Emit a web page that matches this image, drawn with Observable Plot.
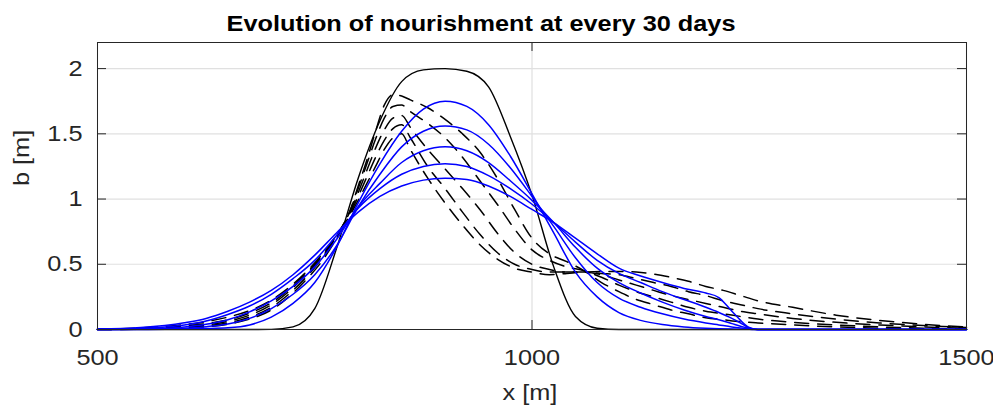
<!DOCTYPE html>
<html>
<head>
<meta charset="utf-8">
<script src="https://cdn.jsdelivr.net/npm/d3@7"></script>
<script src="https://cdn.jsdelivr.net/npm/@observablehq/plot@0.6"></script>
<style>
  html, body { margin: 0; padding: 0; background: #ffffff; }
  #chart svg { display: block; }
</style>
</head>
<body>
<div id="chart"></div>
<script>
// ---- text ----
const titleText = "Evolution of nourishment at every 30 days";
const xLabel = "x [m]";
const yLabel = "b [m]";
const xTicks = [500, 1000, 1500];
const yTicks = [0, 0.5, 1, 1.5, 2];

// ---- grid for solid curves (x in m) ----
const xSolid = [500, 550, 600, 625, 650, 675, 700, 725, 750, 775, 800, 825, 850, 875, 900, 925, 950, 975, 1000, 1025, 1050, 1075, 1100, 1125, 1150, 1175, 1200, 1215, 1230, 1240, 1250, 1260, 1300, 1400, 1500];

// initial nourishment (black solid)
const initialB = [0, 0, 0, 0, 0, 0, 0.001, 0.02, 0.16, 0.62, 1.16, 1.6, 1.9, 1.99, 2.0, 1.98, 1.86, 1.48, 1.03, 0.48, 0.1, 0.01, 0, 0, 0, 0, 0, 0, 0, 0, 0, 0, 0, 0, 0];

// analytical solutions (blue), every 30 days
const blue1 = [0, 0, 0.004, 0.007, 0.013, 0.035, 0.095, 0.2, 0.36, 0.63, 0.97, 1.27, 1.52, 1.69, 1.75, 1.71, 1.57, 1.33, 1.04, 0.74, 0.44, 0.25, 0.13, 0.07, 0.038, 0.02, 0.01, 0.006, 0.003, 0.002, 0.001, 0, 0, 0, 0];
const blue2 = [0, 0.002, 0.01, 0.022, 0.042, 0.085, 0.16, 0.27, 0.42, 0.64, 0.94, 1.19, 1.4, 1.52, 1.56, 1.53, 1.42, 1.24, 1.02, 0.79, 0.55, 0.36, 0.24, 0.17, 0.12, 0.08, 0.05, 0.035, 0.02, 0.012, 0.005, 0, 0, 0, 0];
const blue3 = [0, 0.004, 0.02, 0.04, 0.075, 0.135, 0.22, 0.33, 0.48, 0.69, 0.94, 1.12, 1.28, 1.37, 1.40, 1.37, 1.28, 1.14, 0.99, 0.82, 0.63, 0.47, 0.36, 0.28, 0.21, 0.15, 0.1, 0.075, 0.045, 0.025, 0.008, 0, 0, 0, 0];
const blue4 = [0.001, 0.008, 0.035, 0.065, 0.115, 0.18, 0.27, 0.39, 0.53, 0.72, 0.93, 1.08, 1.19, 1.25, 1.27, 1.25, 1.18, 1.08, 0.96, 0.82, 0.67, 0.53, 0.43, 0.36, 0.29, 0.23, 0.17, 0.13, 0.085, 0.05, 0.012, 0, 0, 0, 0];
const blue5 = [0.003, 0.015, 0.052, 0.085, 0.14, 0.21, 0.3, 0.42, 0.57, 0.74, 0.9, 1.02, 1.1, 1.145, 1.16, 1.15, 1.1, 1.02, 0.92, 0.82, 0.7, 0.58, 0.47, 0.41, 0.36, 0.315, 0.28, 0.245, 0.14, 0.07, 0.015, 0, 0, 0, 0];

// ---- grid for dashed curves ----
const xDashed = [500, 550, 600, 625, 650, 675, 700, 720, 740, 760, 780, 790, 800, 810, 820, 830, 840, 850, 860, 880, 900, 920, 940, 960, 980, 1000, 1020, 1040, 1060, 1080, 1100, 1120, 1140, 1160, 1180, 1200, 1220, 1240, 1260, 1300, 1350, 1400, 1450, 1500];

// numerical solutions (black dashed), every 30 days
const dashed1 = [0, 0.002, 0.01, 0.02, 0.04, 0.08, 0.15, 0.25, 0.38, 0.54, 0.76, 0.9, 1.1, 1.3, 1.52, 1.72, 1.80, 1.79, 1.76, 1.70, 1.61, 1.50, 1.36, 1.16, 0.92, 0.7, 0.58, 0.52, 0.45, 0.36, 0.29, 0.23, 0.19, 0.15, 0.12, 0.09, 0.075, 0.06, 0.05, 0.035, 0.02, 0.01, 0.004, 0.001];
const dashed2 = [0, 0.003, 0.015, 0.027, 0.05, 0.095, 0.17, 0.27, 0.4, 0.56, 0.77, 0.9, 1.08, 1.27, 1.46, 1.62, 1.71, 1.72, 1.67, 1.58, 1.47, 1.32, 1.14, 0.96, 0.77, 0.61, 0.53, 0.48, 0.45, 0.40, 0.34, 0.29, 0.25, 0.21, 0.17, 0.14, 0.12, 0.10, 0.08, 0.055, 0.035, 0.02, 0.01, 0.004];
const dashed3 = [0.001, 0.005, 0.02, 0.035, 0.062, 0.11, 0.19, 0.29, 0.42, 0.57, 0.77, 0.89, 1.05, 1.22, 1.39, 1.53, 1.62, 1.64, 1.55, 1.38, 1.23, 1.08, 0.92, 0.74, 0.59, 0.5, 0.46, 0.44, 0.44, 0.42, 0.38, 0.34, 0.30, 0.26, 0.23, 0.20, 0.17, 0.14, 0.12, 0.085, 0.055, 0.035, 0.02, 0.01];
const dashed4 = [0.002, 0.008, 0.028, 0.045, 0.075, 0.125, 0.205, 0.305, 0.43, 0.58, 0.77, 0.88, 1.02, 1.17, 1.32, 1.45, 1.54, 1.57, 1.47, 1.25, 1.08, 0.9, 0.73, 0.59, 0.5, 0.46, 0.44, 0.44, 0.44, 0.43, 0.42, 0.39, 0.36, 0.33, 0.29, 0.26, 0.22, 0.19, 0.16, 0.12, 0.08, 0.05, 0.03, 0.015];
const dashed5 = [0.003, 0.012, 0.038, 0.06, 0.095, 0.145, 0.225, 0.32, 0.44, 0.59, 0.77, 0.87, 0.99, 1.12, 1.25, 1.38, 1.47, 1.50, 1.38, 1.16, 0.97, 0.8, 0.65, 0.54, 0.47, 0.44, 0.42, 0.43, 0.44, 0.445, 0.445, 0.44, 0.425, 0.40, 0.37, 0.33, 0.30, 0.26, 0.22, 0.17, 0.11, 0.07, 0.04, 0.02];

// ---- build tables ----
function rows(xArr, yArr, name) {
  return xArr.map((x, i) => ({x, b: yArr[i], name}));
}
const initialRows = rows(xSolid, initialB, "initial");
const blueRows = [blue1, blue2, blue3, blue4, blue5].flatMap((arr, k) => rows(xSolid, arr, "analytical " + (k + 1)));
const dashedRows = [dashed1, dashed2, dashed3, dashed4, dashed5].flatMap((arr, k) => rows(xDashed, arr, "numerical " + (k + 1)));

const W = 993, H = 412;
const mL = 97, mR = 27, mT = 42, mB = 83;
const frameW = W - mL - mR, frameH = H - mT - mB;
const tickLen = 9;
const ink = "#262626";
const gridColor = "#e0e0e0";

const chart = Plot.plot({
  width: W,
  height: H,
  marginLeft: mL,
  marginRight: mR,
  marginTop: mT,
  marginBottom: mB,
  style: {fontFamily: "'Liberation Sans', Arial, Helvetica, sans-serif", fontSize: "22px", color: ink, background: "#ffffff", overflow: "visible"},
  x: {domain: [500, 1500]},
  y: {domain: [0, 2.2]},
  marks: [
    Plot.gridX(xTicks, {stroke: gridColor, strokeOpacity: 1, strokeWidth: 1.2}),
    Plot.gridY(yTicks, {stroke: gridColor, strokeOpacity: 1, strokeWidth: 1.2}),
    Plot.line(initialRows, {x: "x", y: "b", stroke: "#000000", strokeWidth: 1.4, curve: "monotone-x"}),
    Plot.line(dashedRows, {x: "x", y: "b", z: "name", stroke: "#000000", strokeWidth: 1.5, strokeDasharray: "14,9", curve: "monotone-x"}),
    Plot.line(blueRows, {x: "x", y: "b", z: "name", stroke: "#0000ff", strokeWidth: 1.5, curve: "monotone-x"}),
    Plot.frame({stroke: ink, strokeWidth: 1}),
    // inward tick marks on all four sides
    Plot.tickX(xTicks, {x: d => d, stroke: ink, insetTop: frameH - tickLen}),
    Plot.tickX(xTicks, {x: d => d, stroke: ink, insetBottom: frameH - tickLen}),
    Plot.tickY(yTicks, {y: d => d, stroke: ink, insetRight: frameW - tickLen}),
    Plot.tickY(yTicks, {y: d => d, stroke: ink, insetLeft: frameW - tickLen}),
    Plot.axisX(xTicks, {tickSize: 0, tickPadding: 20, fontSize: 22, label: null, tickFormat: d => String(d)}),
    Plot.axisY(yTicks, {tickSize: 0, tickPadding: 15, fontSize: 22, label: null, tickFormat: d => String(d)}),
    Plot.text([xLabel], {text: d => d, frameAnchor: "bottom", lineAnchor: "bottom", dy: 70, dx: -2, fontSize: 22, fill: ink}),
    Plot.text([yLabel], {text: d => d, frameAnchor: "left", rotate: -90, dx: -76, fontSize: 22, fill: ink}),
    Plot.text([titleText], {text: d => d, frameAnchor: "top", lineAnchor: "bottom", dy: -12, dx: -51, fontSize: 22, fontWeight: "bold", fill: "#000000"})
  ]
});

document.getElementById("chart").append(chart);

// the reference glyphs are rendered ~15% wider than Arial metrics
chart.querySelectorAll("text").forEach(t => {
  const len = t.getComputedTextLength();
  if (len > 0) {
    t.setAttribute("textLength", (len * 1.15).toFixed(1));
    t.setAttribute("lengthAdjust", "spacingAndGlyphs");
  }
});
</script>
</body>
</html>
